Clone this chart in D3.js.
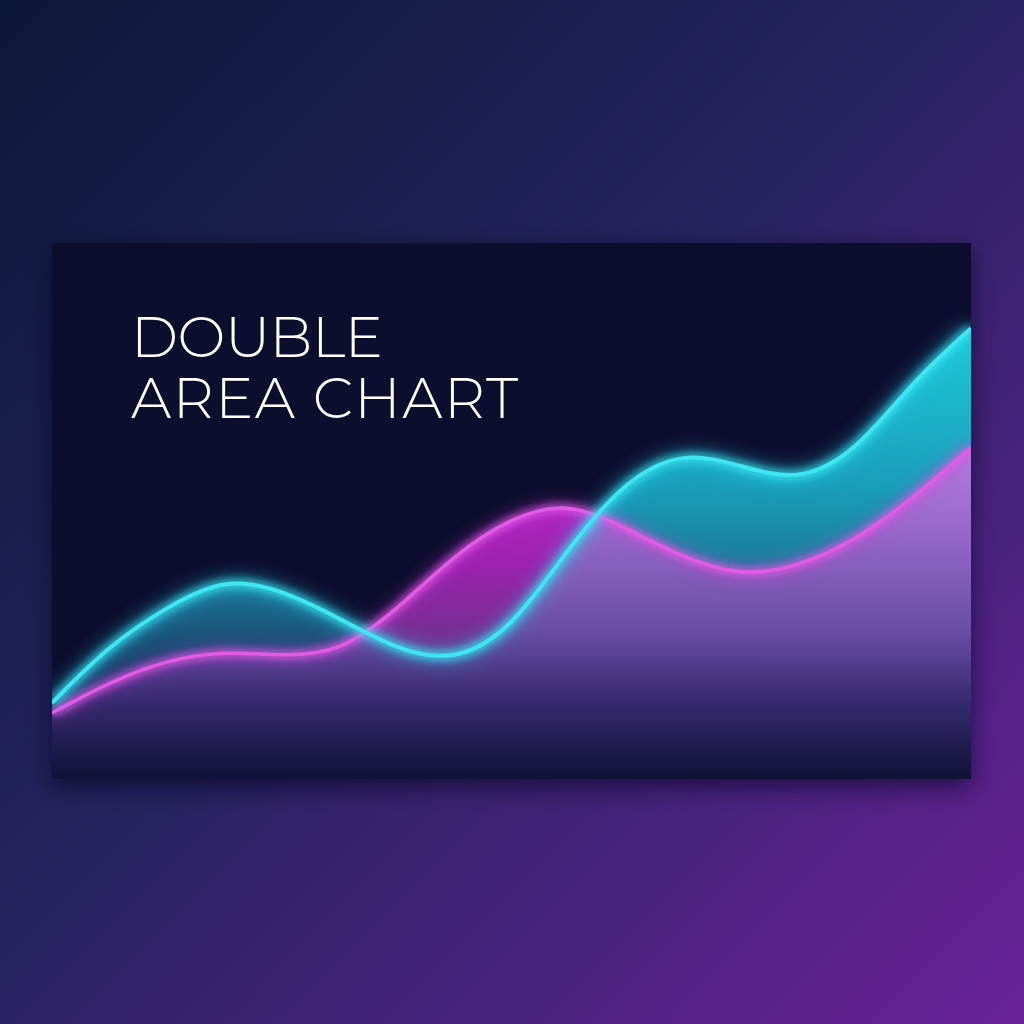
<!DOCTYPE html>
<html>
<head>
<meta charset="utf-8">
<script src="https://cdn.jsdelivr.net/npm/d3@7"></script>
<style>
  html, body { margin: 0; padding: 0; background: #1a1d4a; }
  svg { display: block; }
</style>
</head>
<body>
<div id="chart"></div>
<script>
// two series at 17 evenly spaced steps
const steps = d3.range(17);
const cyanValues = [14.2, 25.0, 32.1, 37.6, 35.3, 30.0, 24.1, 21.8, 27.8, 43.3, 56.0, 61.2, 58.4, 55.4, 61.0, 74.4, 84.1];
const magentaValues = [12.3, 18.1, 22.2, 23.9, 22.9, 23.5, 31.5, 41.8, 48.9, 51.8, 46.8, 41.2, 37.8, 39.6, 44.6, 52.4, 61.9];
const titleLines = ["DOUBLE", "AREA CHART"];

const W = 1024, H = 1024;
const panel = { x: 52, y: 243, w: 919, h: 536 };

const svg = d3.select("#chart").append("svg")
  .attr("width", W)
  .attr("height", H);

const defs = svg.append("defs");

// page background, navy top-left to purple bottom-right
const bg = defs.append("linearGradient")
  .attr("id", "bg")
  .attr("x1", "0").attr("y1", "0").attr("x2", "1").attr("y2", "1");
bg.append("stop").attr("offset", "0").attr("stop-color", "#0c1838");
bg.append("stop").attr("offset", "0.45").attr("stop-color", "#25235f");
bg.append("stop").attr("offset", "1").attr("stop-color", "#6a2199");

function vGrad(id, stops) {
  const g = defs.append("linearGradient")
    .attr("id", id)
    .attr("gradientUnits", "userSpaceOnUse")
    .attr("x1", 0).attr("x2", 0)
    .attr("y1", panel.y).attr("y2", panel.y + panel.h);
  stops.forEach(s => {
    g.append("stop")
      .attr("offset", s[0])
      .attr("stop-color", s[1])
      .attr("stop-opacity", s[2] == null ? 1 : s[2]);
  });
}

// offsets are fractions of the panel height
vGrad("lilac", [[0.37, "#b47ee0"], [0.55, "#9466c8"], [0.72, "#6a4ea6"], [0.86, "#36296e"], [1, "#101237"]]);
vGrad("teal", [[0.15, "#1fcad9"], [0.45, "#1a9fbb"], [0.65, "#1c6f92"], [0.8, "#1a3d68"], [1, "#141640"]]);
vGrad("deepMag", [[0.45, "#b826c6"], [0.6, "#9c22ae"], [0.75, "#70308f"], [1, "#201848"]]);

const shadow = defs.append("filter").attr("id", "shadow")
  .attr("x", "-10%").attr("y", "-10%").attr("width", "120%").attr("height", "130%");
shadow.append("feDropShadow")
  .attr("dx", 0).attr("dy", 8).attr("stdDeviation", 12)
  .attr("flood-color", "#05051a").attr("flood-opacity", 0.6);

function glow(id, dev) {
  const f = defs.append("filter").attr("id", id)
    .attr("x", "-20%").attr("y", "-50%").attr("width", "140%").attr("height", "200%");
  f.append("feGaussianBlur").attr("in", "SourceGraphic").attr("stdDeviation", dev).attr("result", "b");
  const m = f.append("feMerge");
  m.append("feMergeNode").attr("in", "b");
  m.append("feMergeNode").attr("in", "b");
  m.append("feMergeNode").attr("in", "SourceGraphic");
}
glow("glowC", 5);
glow("glowM", 4);

defs.append("clipPath").attr("id", "panelClip")
  .append("rect")
  .attr("x", panel.x).attr("y", panel.y)
  .attr("width", panel.w).attr("height", panel.h);

svg.append("rect")
  .attr("width", W).attr("height", H)
  .attr("fill", "url(#bg)");

svg.append("rect")
  .attr("x", panel.x).attr("y", panel.y)
  .attr("width", panel.w).attr("height", panel.h)
  .attr("fill", "#0b0c2e")
  .attr("filter", "url(#shadow)");

const x = d3.scaleLinear()
  .domain(d3.extent(steps))
  .range([panel.x, panel.x + panel.w]);

const y = d3.scaleLinear()
  .domain([0, 100])
  .range([panel.y + panel.h, panel.y]);

const curve = d3.curveBasis;

const areaBelow = d3.area()
  .x((d, i) => x(steps[i]))
  .y0(y(0))
  .y1(d => y(d))
  .curve(curve);

const areaAbove = d3.area()
  .x((d, i) => x(steps[i]))
  .y0(y(100))
  .y1(d => y(d))
  .curve(curve);

const line = d3.line()
  .x((d, i) => x(steps[i]))
  .y(d => y(d))
  .curve(curve);

// regions above each line, used to cut the fills apart
defs.append("clipPath").attr("id", "aboveMag")
  .append("path").attr("d", areaAbove(magentaValues));
defs.append("clipPath").attr("id", "aboveCyan")
  .append("path").attr("d", areaAbove(cyanValues));

const plot = svg.append("g").attr("clip-path", "url(#panelClip)");

// under both lines: lilac
plot.append("path")
  .attr("d", areaBelow(magentaValues))
  .attr("fill", "url(#lilac)");

// magenta above cyan: deep magenta
plot.append("g").attr("clip-path", "url(#aboveCyan)")
  .append("path")
  .attr("d", areaBelow(magentaValues))
  .attr("fill", "url(#deepMag)");

// cyan above magenta: teal
plot.append("g").attr("clip-path", "url(#aboveMag)")
  .append("path")
  .attr("d", areaBelow(cyanValues))
  .attr("fill", "url(#teal)");

// soft halos
plot.append("path")
  .attr("d", line(magentaValues))
  .attr("fill", "none")
  .attr("stroke", "#d23ee0")
  .attr("stroke-opacity", 0.35)
  .attr("stroke-width", 14)
  .style("filter", "blur(8px)");

plot.append("path")
  .attr("d", line(cyanValues))
  .attr("fill", "none")
  .attr("stroke", "#20d8ec")
  .attr("stroke-opacity", 0.4)
  .attr("stroke-width", 16)
  .style("filter", "blur(9px)");

plot.append("path")
  .attr("d", line(magentaValues))
  .attr("fill", "none")
  .attr("stroke", "#e25ae6")
  .attr("stroke-width", 3.5)
  .attr("filter", "url(#glowM)");

plot.append("path")
  .attr("d", line(cyanValues))
  .attr("fill", "none")
  .attr("stroke", "#3ce6f2")
  .attr("stroke-width", 4)
  .attr("filter", "url(#glowC)");

// title
const title = svg.append("g")
  .attr("fill", "#ffffff")
  .style("font-family", "Montserrat, Lato, 'Open Sans', sans-serif")
  .style("font-weight", 300)
  .style("font-size", "57px");

const baselines = [357, 418];
const targetWidths = [252, 387];
titleLines.forEach((t, i) => {
  const txt = title.append("text")
    .attr("x", 131)
    .attr("y", baselines[i])
    .text(t);
  const n = t.length;
  const w = txt.node().getComputedTextLength();
  txt.attr("letter-spacing", ((targetWidths[i] - w) / (n - 1)).toFixed(2) + "px");
});
</script>
</body>
</html>
